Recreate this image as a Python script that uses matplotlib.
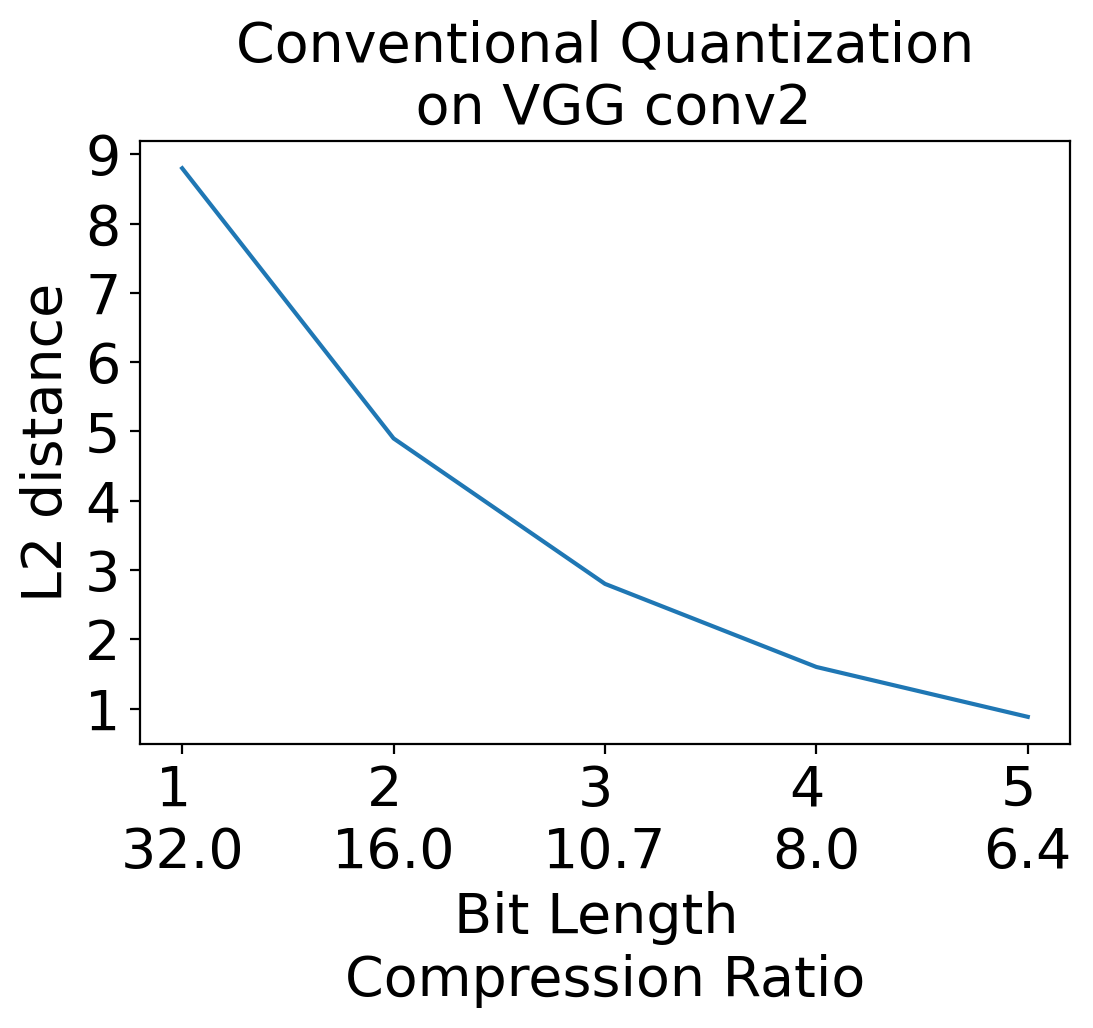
import matplotlib
matplotlib.use("Agg")
import matplotlib.pyplot as plt

bit_length = [1, 2, 3, 4, 5]
compression = ["32.0", "16.0", "10.7", "8.0", "6.4"]
l2_distance = [8.8, 4.9, 2.8, 1.6, 0.88]

plt.rcParams['font.size'] = 20

fig = plt.figure(figsize=(1093 / 200, 1028 / 200), dpi=200)
ax = fig.add_axes([0.128, 0.276, 0.851, 0.587])

ax.plot(bit_length, l2_distance)
ax.set_xticks(bit_length)
ax.set_xticklabels([f"{b} \n{c}" for b, c in zip(bit_length, compression)])
ax.set_yticks(range(1, 10))
ax.set_xlabel("Bit Length \nCompression Ratio")
ax.set_ylabel("L2 distance")
ax.set_title("Conventional Quantization\n on VGG conv2", fontsize=20)

fig.savefig("out.png", dpi=200)
